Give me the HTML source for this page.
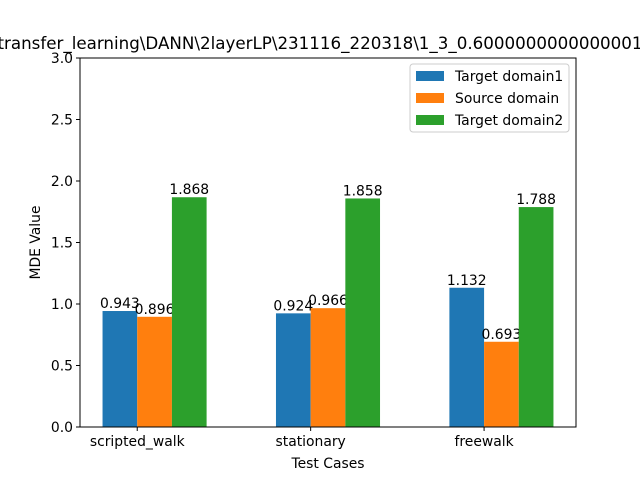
<!DOCTYPE html>
<html><head><meta charset="utf-8"><style>body{margin:0;background:#fff}svg{display:block;font-family:"DejaVu Sans","Liberation Sans",sans-serif}</style></head>
<body>
<svg id="chart" width="640" height="480">
<text x="320" y="49" text-anchor="middle" font-size="16.7">transfer_learning\DANN\2layerLP\231116_220318\1_3_0.6000000000000001</text>
<g id="plot"></g>
</svg>
<script>
const categories = ["scripted_walk","stationary","freewalk"];
const seriesNames = ["Target domain1","Source domain","Target domain2"];
const target1 = [0.943,0.924,1.132];
const source = [0.896,0.966,0.693];
const target2 = [1.868,1.858,1.788];
const yTicks = [0,0.5,1.0,1.5,2.0,2.5,3.0];
const colors = ["#1f77b4","#ff7f0e","#2ca02c"];
const NS="http://www.w3.org/2000/svg";
const L=80,R=576,T=58,B=427;
const xmin=-0.33,xmax=2.53,ymax=3;
const xs=v=>L+(v-xmin)/(xmax-xmin)*(R-L);
const ys=v=>B-v/ymax*(B-T);
const g=document.getElementById('plot');
function mk(tag,a,txt){const e=document.createElementNS(NS,tag);for(const k in a)e.setAttribute(k,a[k]);if(txt!==undefined)e.textContent=txt;g.appendChild(e);return e;}
const series=[target1,source,target2];
series.forEach((s,si)=>{s.forEach((v,i)=>{
 const c=i-0.1+0.2*si;
 const r=mk('rect',{x:xs(c-0.1),y:ys(v),width:xs(c+0.1)-xs(c-0.1),height:ys(0)-ys(v),fill:colors[si]});
 
 
 const t=mk('text',{x:xs(c),y:ys(v)-3,'text-anchor':'middle','font-size':13.9},v.toFixed(3));
 
 
});});
const f=mk('rect',{x:L,y:T,width:R-L,height:B-T,fill:'none',stroke:'#000','stroke-width':1});


yTicks.forEach(v=>{
 mk('line',{x1:L-4,x2:L,y1:ys(v),y2:ys(v),stroke:'#000'});
 const t=mk('text',{x:L-7,y:ys(v)+5,'text-anchor':'end','font-size':13.9},v.toFixed(1));
 
 
});
categories.forEach((c,i)=>{
 mk('line',{x1:xs(i),x2:xs(i),y1:B,y2:B+4,stroke:'#000'});
 const t=mk('text',{x:xs(i),y:B+19,'text-anchor':'middle','font-size':13.9},c);
 
 
});
const xt=mk('text',{x:(L+R)/2,y:468,'text-anchor':'middle','font-size':13.9},'Test Cases');


const yt=mk('text',{x:40,y:(T+B)/2,'text-anchor':'middle','font-size':13.9,transform:'rotate(-90 40 '+(T+B)/2+')'},'MDE Value');


const lb=mk('rect',{x:410,y:64,width:159,height:68,fill:'#fff',stroke:'#ccc',rx:3});


seriesNames.forEach((n,i)=>{
 const y=76+22*i;
 mk('rect',{x:416,y:y-5,width:28,height:10,fill:colors[i]});
 const t=mk('text',{x:455,y:y+5,'font-size':13.9},n);
 
 
});
</script>
</body></html>
